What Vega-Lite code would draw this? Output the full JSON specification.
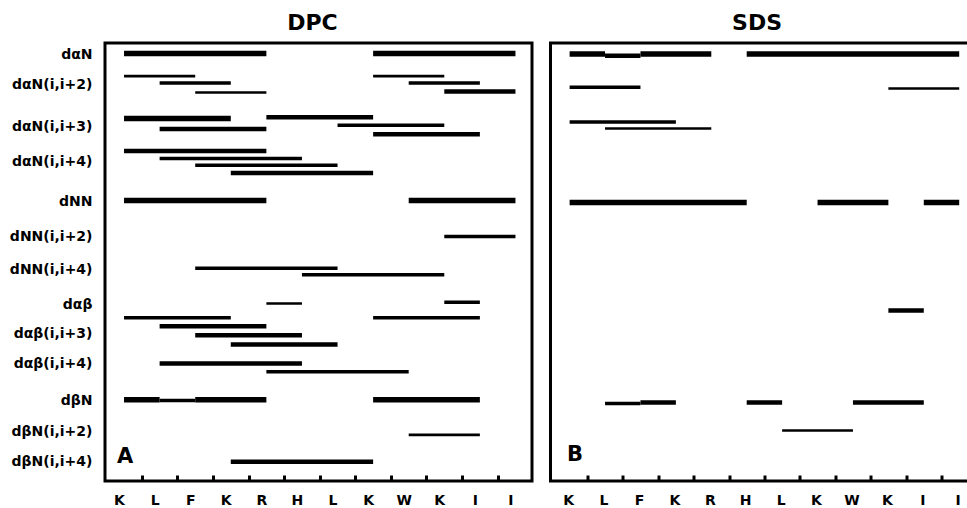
{
  "$schema": "https://vega.github.io/schema/vega-lite/v6.json",
  "background": "white",
  "padding": {"left": 7, "top": 10, "right": 0, "bottom": 0},
  "config": {
    "font": "DejaVu Sans",
    "view": {"stroke": "black", "strokeWidth": 3},
    "axis": {"labelFont": "DejaVu Sans", "labelFontWeight": "bold", "labelFontSize": 14, "labelColor": "black", "domainColor": "black", "tickColor": "black", "grid": false, "labelOverlap": false, "tickCount": 200},
    "title": {"font": "DejaVu Sans", "fontSize": 22, "fontWeight": "bold", "color": "black"},
    "concat": {"spacing": 14.5}
  },
  "datasets": {
    "noe": [
      {"panel": "DPC", "type": "dαN", "from": 0, "to": 4, "track": 54, "level": 4},
      {"panel": "DPC", "type": "dαN", "from": 7, "to": 11, "track": 54, "level": 4},
      {"panel": "DPC", "type": "dαN(i,i+2)", "from": 0, "to": 2, "track": 76.7, "level": 1},
      {"panel": "DPC", "type": "dαN(i,i+2)", "from": 1, "to": 3, "track": 83.5, "level": 2},
      {"panel": "DPC", "type": "dαN(i,i+2)", "from": 2, "to": 4, "track": 93, "level": 1},
      {"panel": "DPC", "type": "dαN(i,i+2)", "from": 7, "to": 9, "track": 76.7, "level": 1},
      {"panel": "DPC", "type": "dαN(i,i+2)", "from": 8, "to": 10, "track": 83.5, "level": 2},
      {"panel": "DPC", "type": "dαN(i,i+2)", "from": 9, "to": 11, "track": 92, "level": 3},
      {"panel": "DPC", "type": "dαN(i,i+3)", "from": 0, "to": 3, "track": 119, "level": 4},
      {"panel": "DPC", "type": "dαN(i,i+3)", "from": 1, "to": 4, "track": 129.5, "level": 3},
      {"panel": "DPC", "type": "dαN(i,i+3)", "from": 4, "to": 7, "track": 117.7, "level": 3},
      {"panel": "DPC", "type": "dαN(i,i+3)", "from": 6, "to": 9, "track": 125.8, "level": 2},
      {"panel": "DPC", "type": "dαN(i,i+3)", "from": 7, "to": 10, "track": 134.7, "level": 3},
      {"panel": "DPC", "type": "dαN(i,i+4)", "from": 0, "to": 4, "track": 151.5, "level": 3},
      {"panel": "DPC", "type": "dαN(i,i+4)", "from": 1, "to": 5, "track": 159, "level": 2},
      {"panel": "DPC", "type": "dαN(i,i+4)", "from": 2, "to": 6, "track": 165.8, "level": 2},
      {"panel": "DPC", "type": "dαN(i,i+4)", "from": 3, "to": 7, "track": 173.5, "level": 3},
      {"panel": "DPC", "type": "dNN", "from": 0, "to": 4, "track": 201, "level": 4},
      {"panel": "DPC", "type": "dNN", "from": 8, "to": 11, "track": 201, "level": 4},
      {"panel": "DPC", "type": "dNN(i,i+2)", "from": 9, "to": 11, "track": 237, "level": 2},
      {"panel": "DPC", "type": "dNN(i,i+4)", "from": 2, "to": 6, "track": 268.8, "level": 2},
      {"panel": "DPC", "type": "dNN(i,i+4)", "from": 5, "to": 9, "track": 275.3, "level": 2},
      {"panel": "DPC", "type": "dαβ", "from": 4, "to": 5, "track": 304, "level": 1},
      {"panel": "DPC", "type": "dαβ", "from": 9, "to": 10, "track": 302.8, "level": 2},
      {"panel": "DPC", "type": "dαβ(i,i+3)", "from": 0, "to": 3, "track": 318.3, "level": 2},
      {"panel": "DPC", "type": "dαβ(i,i+3)", "from": 1, "to": 4, "track": 326.8, "level": 3},
      {"panel": "DPC", "type": "dαβ(i,i+3)", "from": 2, "to": 5, "track": 335.8, "level": 3},
      {"panel": "DPC", "type": "dαβ(i,i+3)", "from": 3, "to": 6, "track": 345, "level": 3},
      {"panel": "DPC", "type": "dαβ(i,i+3)", "from": 7, "to": 10, "track": 318.3, "level": 2},
      {"panel": "DPC", "type": "dαβ(i,i+4)", "from": 1, "to": 5, "track": 364, "level": 3},
      {"panel": "DPC", "type": "dαβ(i,i+4)", "from": 4, "to": 8, "track": 372.3, "level": 2},
      {"panel": "DPC", "type": "dβN", "from": 0, "to": 1, "track": 400.2, "level": 4},
      {"panel": "DPC", "type": "dβN", "from": 1, "to": 2, "track": 401, "level": 2},
      {"panel": "DPC", "type": "dβN", "from": 2, "to": 4, "track": 400.2, "level": 4},
      {"panel": "DPC", "type": "dβN", "from": 7, "to": 10, "track": 400.2, "level": 4},
      {"panel": "DPC", "type": "dβN(i,i+2)", "from": 8, "to": 10, "track": 435.3, "level": 1},
      {"panel": "DPC", "type": "dβN(i,i+4)", "from": 3, "to": 7, "track": 462.2, "level": 3},
      {"panel": "SDS", "type": "dαN", "from": 0, "to": 1, "track": 54.5, "level": 4},
      {"panel": "SDS", "type": "dαN", "from": 1, "to": 2, "track": 56.3, "level": 3},
      {"panel": "SDS", "type": "dαN", "from": 2, "to": 4, "track": 54.5, "level": 4},
      {"panel": "SDS", "type": "dαN", "from": 5, "to": 11, "track": 54.5, "level": 4},
      {"panel": "SDS", "type": "dαN(i,i+2)", "from": 0, "to": 2, "track": 87.7, "level": 2},
      {"panel": "SDS", "type": "dαN(i,i+2)", "from": 9, "to": 11, "track": 89, "level": 1},
      {"panel": "SDS", "type": "dαN(i,i+3)", "from": 0, "to": 3, "track": 122.5, "level": 2},
      {"panel": "SDS", "type": "dαN(i,i+3)", "from": 1, "to": 4, "track": 129, "level": 1},
      {"panel": "SDS", "type": "dNN", "from": 0, "to": 5, "track": 203, "level": 4},
      {"panel": "SDS", "type": "dNN", "from": 7, "to": 9, "track": 203, "level": 4},
      {"panel": "SDS", "type": "dNN", "from": 10, "to": 11, "track": 203, "level": 4},
      {"panel": "SDS", "type": "dαβ", "from": 9, "to": 10, "track": 311, "level": 3},
      {"panel": "SDS", "type": "dβN", "from": 1, "to": 2, "track": 404, "level": 2},
      {"panel": "SDS", "type": "dβN", "from": 2, "to": 3, "track": 403, "level": 3},
      {"panel": "SDS", "type": "dβN", "from": 5, "to": 6, "track": 403, "level": 3},
      {"panel": "SDS", "type": "dβN", "from": 8, "to": 10, "track": 403, "level": 3},
      {"panel": "SDS", "type": "dβN(i,i+2)", "from": 6, "to": 8, "track": 431, "level": 1}
    ],
    "tags": [
      {"panel": "DPC", "tag": "A", "x": 0.03, "track": 457},
      {"panel": "SDS", "tag": "B", "x": 0.15, "track": 455}
    ]
  },
  "hconcat": [
    {
      "title": {"text": "DPC", "frame": "group", "dx": -6, "offset": -8.5, "baseline": "alphabetic"},
      "width": 427,
      "height": 438,
      "layer": [
        {
          "data": {"name": "noe"},
          "transform": [{"filter": "datum.panel === 'DPC'"}],
          "mark": {"type": "rule", "color": "black", "strokeCap": "butt"},
          "encoding": {
            "x": {"field": "from", "type": "quantitative", "title": null,
              "scale": {"domain": [-0.535, 11.465], "nice": false, "zero": false},
              "axis": {"values": [0, 0.5, 1, 1.5, 2, 2.5, 3, 3.5, 4, 4.5, 5, 5.5, 6, 6.5, 7, 7.5, 8, 8.5, 9, 9.5, 10, 10.5, 11],
                "tickCount": 200,
                "labelExpr": "datum.value % 1 === 0 ? ['K','L','F','K','R','H','L','K','W','K','I','I'][datum.value] : ''",
                "labelOverlap": false, "labelFlush": false,
                "domain": false, "tickSize": -6, "tickWidth": 3, "labelPadding": 18.5, "labelOffset": -5,
                "tickOpacity": {"condition": {"test": "datum.value % 1 === 0", "value": 0}, "value": 1}}},
            "x2": {"field": "to"},
            "y": {"field": "track", "type": "quantitative", "title": null,
              "scale": {"domain": [43.5, 481.5], "reverse": true, "nice": false, "zero": false},
              "axis": {"values": [55, 85, 127, 162, 202, 237, 270, 305, 334, 364, 401, 432, 462],
                "tickCount": 200,
                "labelExpr": "datum.value == 55 ? 'dαN' : datum.value == 85 ? 'dαN(i,i+2)' : datum.value == 127 ? 'dαN(i,i+3)' : datum.value == 162 ? 'dαN(i,i+4)' : datum.value == 202 ? 'dNN' : datum.value == 237 ? 'dNN(i,i+2)' : datum.value == 270 ? 'dNN(i,i+4)' : datum.value == 305 ? 'dαβ' : datum.value == 334 ? 'dαβ(i,i+3)' : datum.value == 364 ? 'dαβ(i,i+4)' : datum.value == 401 ? 'dβN' : datum.value == 432 ? 'dβN(i,i+2)' : 'dβN(i,i+4)'",
                "labelOverlap": false, "labelFlush": false, "labelBound": false,
                "domain": false, "ticks": false, "labelPadding": 13}},
            "strokeWidth": {"field": "level", "type": "ordinal", "scale": {"domain": [1, 2, 3, 4], "range": [2.7, 5.5, 8, 10.5]}, "legend": null}
          }
        },
        {
          "data": {"name": "tags"},
          "transform": [{"filter": "datum.panel === 'DPC'"}],
          "mark": {"type": "text", "fontSize": 21, "fontWeight": "bold", "color": "black", "font": "DejaVu Sans"},
          "encoding": {
            "x": {"field": "x", "type": "quantitative"},
            "y": {"field": "track", "type": "quantitative"},
            "text": {"field": "tag"}
          }
        }
      ]
    },
    {
      "title": {"text": "SDS", "frame": "group", "dx": -6, "offset": -8.5, "baseline": "alphabetic"},
      "width": 425,
      "height": 438,
      "layer": [
        {
          "data": {"name": "noe"},
          "transform": [{"filter": "datum.panel === 'SDS'"}],
          "mark": {"type": "rule", "color": "black", "strokeCap": "butt"},
          "encoding": {
            "x": {"field": "from", "type": "quantitative", "title": null,
              "scale": {"domain": [-0.54, 11.46], "nice": false, "zero": false},
              "axis": {"values": [0, 0.5, 1, 1.5, 2, 2.5, 3, 3.5, 4, 4.5, 5, 5.5, 6, 6.5, 7, 7.5, 8, 8.5, 9, 9.5, 10, 10.5, 11],
                "tickCount": 200,
                "labelExpr": "datum.value % 1 === 0 ? ['K','L','F','K','R','H','L','K','W','K','I','I'][datum.value] : ''",
                "labelOverlap": false, "labelFlush": false,
                "domain": false, "tickSize": -6, "tickWidth": 3, "labelPadding": 18.5, "labelOffset": -1.5,
                "tickOpacity": {"condition": {"test": "datum.value % 1 === 0", "value": 0}, "value": 1}}},
            "x2": {"field": "to"},
            "y": {"field": "track", "type": "quantitative", "title": null,
              "scale": {"domain": [43.5, 481.5], "reverse": true, "nice": false, "zero": false},
              "axis": null},
            "strokeWidth": {"field": "level", "type": "ordinal", "scale": {"domain": [1, 2, 3, 4], "range": [2.7, 5.5, 8, 10.5]}, "legend": null}
          }
        },
        {
          "data": {"name": "tags"},
          "transform": [{"filter": "datum.panel === 'SDS'"}],
          "mark": {"type": "text", "fontSize": 21, "fontWeight": "bold", "color": "black", "font": "DejaVu Sans"},
          "encoding": {
            "x": {"field": "x", "type": "quantitative"},
            "y": {"field": "track", "type": "quantitative"},
            "text": {"field": "tag"}
          }
        }
      ]
    }
  ]
}
